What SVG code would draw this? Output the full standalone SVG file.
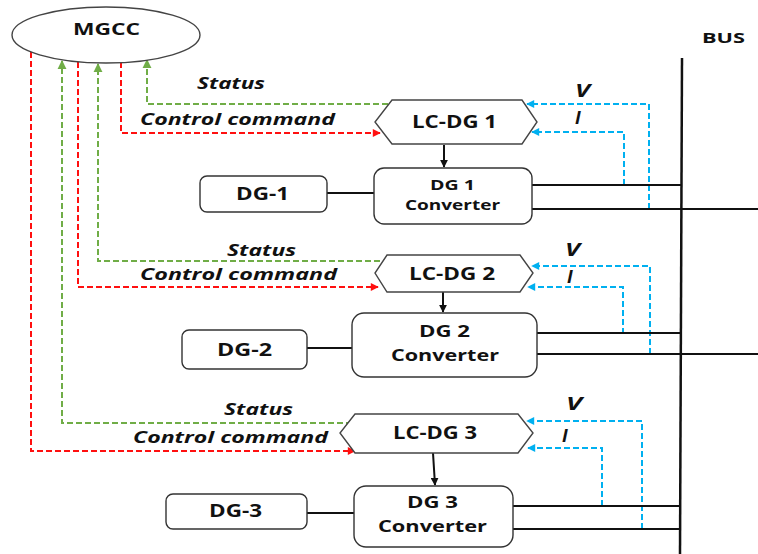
<svg xmlns="http://www.w3.org/2000/svg" width="758" height="554" viewBox="0 0 758 554">
<style>
text{font-family:"Open Sans","Liberation Sans",sans-serif;font-weight:bold;fill:#111}
.it{font-style:italic}
.box{fill:#fff;stroke:#333;stroke-width:1.4}
.hex{fill:#fff;stroke:#444;stroke-width:1.4}
.red{fill:none;stroke:#FF1010;stroke-width:2;stroke-dasharray:6 3}
.grn{fill:none;stroke:#70AD47;stroke-width:2;stroke-dasharray:6 3}
.blu{fill:none;stroke:#00B0F0;stroke-width:2;stroke-dasharray:6 3}
.blk{fill:none;stroke:#111;stroke-width:2}
.vi{font-size:18px}
</style>
<defs>
<marker id="ar" viewBox="0 0 10 10" refX="9" refY="5" markerWidth="9" markerHeight="8" markerUnits="userSpaceOnUse" orient="auto"><path d="M0,0 L10,5 L0,10 Z" fill="#FF1010"/></marker>
<marker id="ag" viewBox="0 0 10 10" refX="9" refY="5" markerWidth="9" markerHeight="10" markerUnits="userSpaceOnUse" orient="auto"><path d="M0,0 L10,5 L0,10 Z" fill="#70AD47"/></marker>
<marker id="ab" viewBox="0 0 10 10" refX="9" refY="5" markerWidth="9" markerHeight="8" markerUnits="userSpaceOnUse" orient="auto"><path d="M0,0 L10,5 L0,10 Z" fill="#00B0F0"/></marker>
<marker id="ak" viewBox="0 0 10 10" refX="9" refY="5" markerWidth="8" markerHeight="8" markerUnits="userSpaceOnUse" orient="auto"><path d="M0,0 L10,5 L0,10 Z" fill="#111"/></marker>
</defs>
<rect width="758" height="554" fill="#fff"/>

<g id="connectors">
<path class="grn" d="M388,104 H147 V60" marker-end="url(#ag)"/>
<path class="red" d="M121,62 V133 H380" marker-end="url(#ar)"/>
<path class="grn" d="M380,261 H98 V64" marker-end="url(#ag)"/>
<path class="red" d="M78,62 V287 H378" marker-end="url(#ar)"/>
<path class="grn" d="M352,423 H62 V61" marker-end="url(#ag)"/>
<path class="red" d="M31,52 V451 H355" marker-end="url(#ar)"/>
<path class="blu" d="M649,209 V104 H527" marker-end="url(#ab)"/>
<path class="blu" d="M624,185 V132 H532" marker-end="url(#ab)"/>
<path class="blu" d="M650,354 V266 H532" marker-end="url(#ab)"/>
<path class="blu" d="M623,334 V287 H528" marker-end="url(#ab)"/>
<path class="blu" d="M642,529 V421 H527" marker-end="url(#ab)"/>
<path class="blu" d="M602,506 V448 H528" marker-end="url(#ab)"/>
<path class="blk" d="M444,145 V167" marker-end="url(#ak)"/>
<path class="blk" d="M443,292 V312" marker-end="url(#ak)"/>
<path class="blk" d="M433,453 L435,485" marker-end="url(#ak)"/>
<path class="blk" d="M530,185 H681 M528,209 H758 M537,333 H681 M537,354 H758 M513,506 H681 M513,529 H681" stroke-width="1.8"/>
<path class="blk" d="M327,193 H374 M307,348 H352 M307,513 H354" stroke-width="1.8"/>
</g>

<g id="bus">
<path d="M682,58 L680,554" stroke="#111" stroke-width="2.5" fill="none"/>
<text x="702" y="43" font-size="15" textLength="43" lengthAdjust="spacingAndGlyphs">BUS</text>
</g>

<g id="MGCC">
<ellipse cx="106" cy="35" rx="94" ry="28" fill="#fff" stroke="#444" stroke-width="1.4"/>
<text x="73" y="35" font-size="16" textLength="67" lengthAdjust="spacingAndGlyphs">MGCC</text>
</g>

<g id="labels">
<text class="it" x="197" y="89" font-size="15.5" textLength="68" lengthAdjust="spacingAndGlyphs">Status</text>
<text class="it" x="140" y="125" font-size="15.5" textLength="195" lengthAdjust="spacingAndGlyphs">Control command</text>
<text class="it" x="227" y="256" font-size="15.5" textLength="69" lengthAdjust="spacingAndGlyphs">Status</text>
<text class="it" x="140" y="280" font-size="15.5" textLength="197" lengthAdjust="spacingAndGlyphs">Control command</text>
<text class="it" x="224" y="415" font-size="15.5" textLength="69" lengthAdjust="spacingAndGlyphs">Status</text>
<text class="it" x="133" y="443" font-size="15.5" textLength="195" lengthAdjust="spacingAndGlyphs">Control command</text>
<text class="it vi" x="575" y="97" textLength="15" lengthAdjust="spacingAndGlyphs">V</text>
<text class="it vi" x="575" y="124">I</text>
<text class="it vi" x="565" y="256" textLength="15" lengthAdjust="spacingAndGlyphs">V</text>
<text class="it vi" x="567" y="283">I</text>
<text class="it vi" x="566" y="410" textLength="16" lengthAdjust="spacingAndGlyphs">V</text>
<text class="it vi" x="562" y="442">I</text>
</g>

<g id="LC-DG1">
<polygon class="hex" points="392,100 522,100 537,122 522,144 392,144 375,122"/>
<text x="412" y="128" font-size="17" textLength="85" lengthAdjust="spacingAndGlyphs">LC-DG 1</text>
</g>
<g id="LC-DG2">
<polygon class="hex" points="387,255 520,255 533,273 520,292 387,292 375,273"/>
<text x="409" y="280" font-size="17" textLength="86" lengthAdjust="spacingAndGlyphs">LC-DG 2</text>
</g>
<g id="LC-DG3">
<polygon class="hex" points="355,414 518,414 533,433 518,453 355,453 340,433"/>
<text x="393" y="439" font-size="17" textLength="84" lengthAdjust="spacingAndGlyphs">LC-DG 3</text>
</g>

<g id="DG1-conv">
<rect class="box" x="374" y="168" width="158" height="56" rx="10"/>
<text x="430" y="190" font-size="14" textLength="45" lengthAdjust="spacingAndGlyphs">DG 1</text>
<text x="405" y="210" font-size="14" textLength="95" lengthAdjust="spacingAndGlyphs">Converter</text>
</g>
<g id="DG2-conv">
<rect class="box" x="352" y="313" width="185" height="64" rx="12"/>
<text x="419" y="337" font-size="15.5" textLength="51" lengthAdjust="spacingAndGlyphs">DG 2</text>
<text x="391" y="361" font-size="15.5" textLength="108" lengthAdjust="spacingAndGlyphs">Converter</text>
</g>
<g id="DG3-conv">
<rect class="box" x="354" y="486" width="159" height="61" rx="12"/>
<text x="407" y="508" font-size="15.5" textLength="51" lengthAdjust="spacingAndGlyphs">DG 3</text>
<text x="378" y="532" font-size="15.5" textLength="109" lengthAdjust="spacingAndGlyphs">Converter</text>
</g>

<g id="DG-1">
<rect class="box" x="200" y="176" width="127" height="36" rx="7"/>
<text x="236" y="200" font-size="17" textLength="53" lengthAdjust="spacingAndGlyphs">DG-1</text>
</g>
<g id="DG-2">
<rect class="box" x="182" y="330" width="125" height="39" rx="7"/>
<text x="217" y="356" font-size="17" textLength="55" lengthAdjust="spacingAndGlyphs">DG-2</text>
</g>
<g id="DG-3">
<rect class="box" x="166" y="494" width="141" height="35" rx="7"/>
<text x="209" y="517" font-size="17" textLength="53" lengthAdjust="spacingAndGlyphs">DG-3</text>
</g>
</svg>
